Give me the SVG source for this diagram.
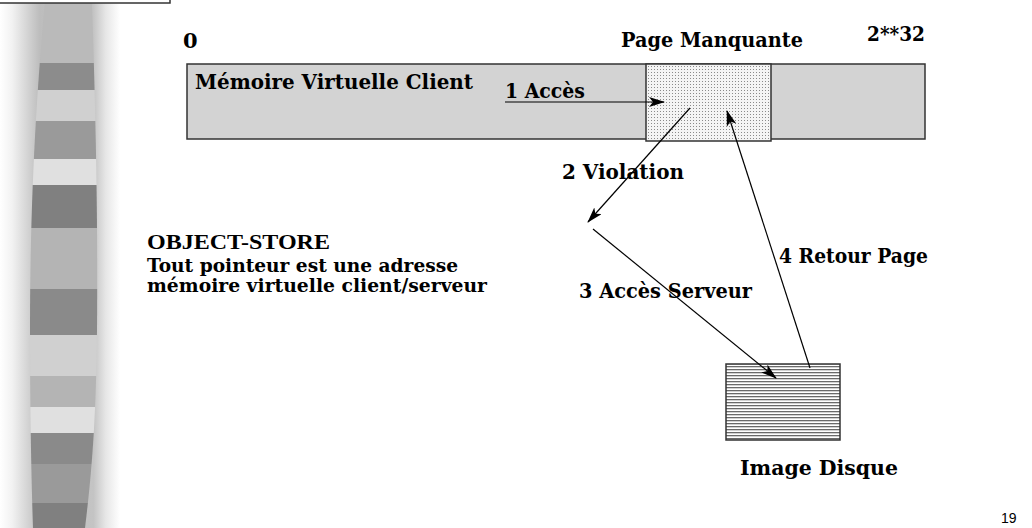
<svg xmlns="http://www.w3.org/2000/svg" width="1032" height="528" viewBox="0 0 1032 528">
<style>
.t{font-family:"DejaVu Serif","Liberation Serif",serif;font-weight:bold;font-size:21px;fill:#000}
.tb{font-family:"DejaVu Serif","Liberation Serif",serif;font-weight:bold;font-size:19px;fill:#000}
.ts{font-family:"Liberation Serif","DejaVu Serif",serif;font-weight:bold;font-size:20px;fill:#000}
.box{stroke:#333;stroke-width:1.5}
.conn{stroke:#000;stroke-width:1.2;fill:none}
</style>
<defs>
<linearGradient id="side" x1="0" y1="0" x2="120" y2="0" gradientUnits="userSpaceOnUse">
<stop offset="0" stop-color="#ffffff"/>
<stop offset="0.1" stop-color="#f2f2f2"/>
<stop offset="0.25" stop-color="#cfcfcf"/>
<stop offset="0.33" stop-color="#bdbdbd"/>
<stop offset="0.78" stop-color="#c4c4c4"/>
<stop offset="0.88" stop-color="#e6e6e6"/>
<stop offset="1" stop-color="#ffffff"/>
</linearGradient>
<clipPath id="col"><path d="M45,0 L92,0 C95,100 98,200 97,330 C96,420 92,470 85,528 L33,528 C31,470 30,400 30,330 C30,200 36,100 45,0 Z"/></clipPath>
<pattern id="dots" width="3" height="3" patternUnits="userSpaceOnUse">
<rect width="3" height="3" fill="#f4f4f4"/>
<rect width="1" height="1" fill="#8a8a8a"/>
</pattern>
<pattern id="hatch" width="3" height="3" patternUnits="userSpaceOnUse">
<rect width="3" height="3" fill="#ffffff"/>
<rect width="3" height="1.3" fill="#6a6a6a"/>
</pattern>
<marker id="ah" viewBox="0 0 16 10" refX="15" refY="5" markerWidth="16" markerHeight="10" markerUnits="userSpaceOnUse" orient="auto">
<path d="M0,0 L16,5 L0,10 L4,5 Z" fill="#000"/>
</marker>
</defs>
<rect width="1032" height="528" fill="#fff"/>
<g id="sidebar">
<rect x="0" y="0" width="120" height="528" fill="url(#side)"/>
<g clip-path="url(#col)">
<rect x="20" y="0" width="90" height="63" fill="#bababa"/>
<rect x="20" y="63" width="90" height="27" fill="#8c8c8c"/>
<rect x="20" y="90" width="90" height="31" fill="#d0d0d0"/>
<rect x="20" y="121" width="90" height="38" fill="#9a9a9a"/>
<rect x="20" y="159" width="90" height="26" fill="#e0e0e0"/>
<rect x="20" y="185" width="90" height="43" fill="#808080"/>
<rect x="20" y="228" width="90" height="61" fill="#b4b4b4"/>
<rect x="20" y="289" width="90" height="46" fill="#8a8a8a"/>
<rect x="20" y="335" width="90" height="41" fill="#d0d0d0"/>
<rect x="20" y="376" width="90" height="31" fill="#b4b4b4"/>
<rect x="20" y="407" width="90" height="26" fill="#e0e0e0"/>
<rect x="20" y="433" width="90" height="31" fill="#8a8a8a"/>
<rect x="20" y="464" width="90" height="39" fill="#9a9a9a"/>
<rect x="20" y="503" width="90" height="25" fill="#808080"/>
</g>
</g>
<g id="titlebox"><rect x="-2" y="-10" width="172" height="13" fill="#fff" class="box"/></g>
<g id="memory">
<rect x="187" y="64" width="738" height="75" fill="#d3d3d3" class="box"/>
<text class="t" x="195" y="89" textLength="278" lengthAdjust="spacingAndGlyphs">Mémoire Virtuelle Client</text>
</g>
<g id="page">
<rect x="646" y="64" width="125" height="77" fill="url(#dots)" class="box"/>
</g>
<g id="disk">
<rect x="726" y="364" width="114" height="76" fill="url(#hatch)" class="box"/>
<text class="t" x="740" y="475" textLength="158" lengthAdjust="spacingAndGlyphs">Image Disque</text>
</g>
<g id="labels">
<text class="t" x="183" y="48">0</text>
<text class="t" x="621" y="47" textLength="182" lengthAdjust="spacingAndGlyphs">Page Manquante</text>
<text class="t" x="867" y="41" textLength="58" lengthAdjust="spacingAndGlyphs">2**32</text>
<text class="ts" x="147" y="249" textLength="183" lengthAdjust="spacingAndGlyphs">OBJECT-STORE</text>
<text class="tb" x="147" y="272" textLength="311" lengthAdjust="spacingAndGlyphs">Tout pointeur est une adresse</text>
<text class="tb" x="147" y="292" textLength="340" lengthAdjust="spacingAndGlyphs">mémoire virtuelle client/serveur</text>
<text x="1001" y="523" font-family="Liberation Sans, Arial, sans-serif" font-size="14" fill="#000">19</text>
</g>
<g id="connectors">
<line class="conn" x1="505" y1="102" x2="664" y2="102" marker-end="url(#ah)"/>
<line class="conn" x1="690" y1="108" x2="588" y2="222" marker-end="url(#ah)"/>
<line class="conn" x1="593" y1="229" x2="776" y2="378" marker-end="url(#ah)"/>
<line class="conn" x1="810" y1="368" x2="727" y2="111" marker-end="url(#ah)"/>
<text class="t" x="505" y="98" textLength="80" lengthAdjust="spacingAndGlyphs">1 Accès</text>
<text class="t" x="562" y="179" textLength="122" lengthAdjust="spacingAndGlyphs">2 Violation</text>
<text class="t" x="779" y="263" textLength="149" lengthAdjust="spacingAndGlyphs">4 Retour Page</text>
<text class="t" x="579" y="298" textLength="173" lengthAdjust="spacingAndGlyphs">3 Accès Serveur</text>
</g>
</svg>
